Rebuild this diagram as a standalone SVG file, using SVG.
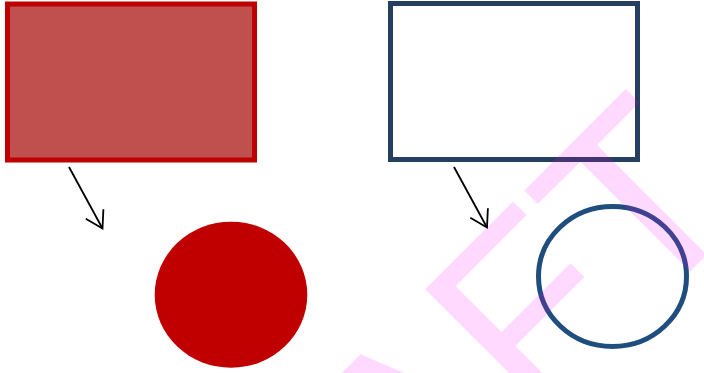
<svg xmlns="http://www.w3.org/2000/svg" width="704" height="373" viewBox="0 0 704 373">
  <style>
    .conn { stroke: #000000; stroke-width: 1.8; fill: none; }
    .wm { font-family: "Liberation Sans", Arial, sans-serif; font-size: 254px; fill: #FF00FF; fill-opacity: 0.15; font-kerning: none; }
  </style>
  <defs>
    <marker id="open" markerUnits="userSpaceOnUse" markerWidth="40" markerHeight="40" refX="0" refY="0" orient="auto" overflow="visible">
      <path d="M -16.5 -10 L 0 0 L -16.5 10" fill="none" stroke="#000000" stroke-width="1.8" stroke-linejoin="miter"/>
    </marker>
  </defs>
  <rect width="704" height="373" fill="#FFFFFF"/>
  <g id="red-rect">
    <rect x="7.5" y="4" width="247" height="156" fill="#C0504D" stroke="#C00000" stroke-width="5"/>
  </g>
  <g id="red-ellipse">
    <ellipse cx="231" cy="294.7" rx="76.3" ry="73" fill="#C00000"/>
  </g>
  <g id="blue-rect">
    <rect x="390.5" y="3.5" width="247" height="156" fill="#FFFFFF" stroke="#243F60" stroke-width="5"/>
  </g>
  <g id="blue-ellipse">
    <ellipse cx="612.5" cy="276.5" rx="74" ry="70" fill="none" stroke="#1F4E7E" stroke-width="5"/>
  </g>
  <g id="connectors">
    <line class="conn" x1="69" y1="167" x2="102.5" y2="228.5" marker-end="url(#open)"/>
    <line class="conn" x1="454" y1="167" x2="487" y2="227.5" marker-end="url(#open)"/>
  </g>
  <g id="watermark">
    <text class="wm" x="-461" y="680" transform="rotate(-45)">DRAFT</text>
  </g>
</svg>
